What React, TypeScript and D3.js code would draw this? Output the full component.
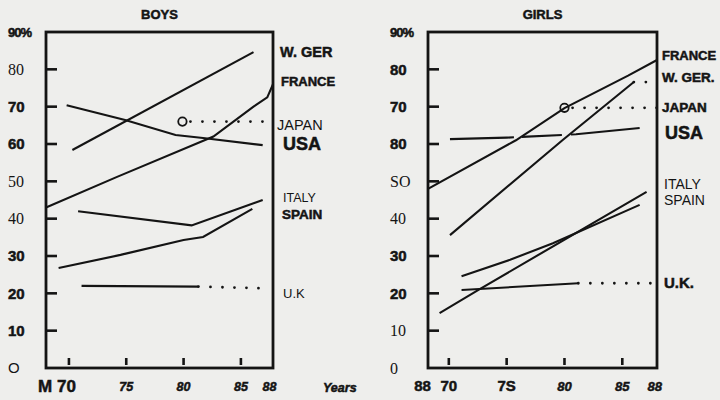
import React from "react";
import * as d3 from "d3";

// ---- data (year, percent) ----
const boysWGer = [[70.3, 58.4], [86.1, 84.6]];
const boysFrance = [[68, 43], [74.2, 51.2], [82.6, 62], [86.1, 70], [87.3, 72.5], [87.8, 76]];
const boysUsa = [[69.8, 70.4], [74.9, 66.4], [79.3, 62.4], [81.7, 61.6], [86.9, 59.7]];
const boysJapan = [[79.9, 66], [87.8, 66]];
const boysItaly = [[70.8, 42], [80.7, 38.2], [86.9, 45]];
const boysSpain = [[69.1, 26.8], [74.5, 30.3], [80, 34.3], [81.7, 35.1], [86, 42.6]];
const boysUk = [[71.1, 22], [81.3, 21.8]];
const boysUkTrend = [[81.3, 21.8], [87.5, 21.3]];

const girlsFrance = [[68.2, 48], [75.8, 61], [80, 69.6], [85.5, 78.3], [88, 82.5]];
const girlsWGer = [[70.1, 35.6], [79.9, 61.2], [86, 76.6]];
const girlsWGerTrend = [[86, 76.6], [88, 76.6]];
const girlsJapan = [[80, 69.7], [88, 69.7]];
const girlsUsa = [[70.1, 61.3], [75, 61.7], [81, 62.6], [86.5, 64.3]];
const girlsItaly = [[69.2, 14.7], [72.6, 21], [87.1, 47.2]];
const girlsSpain = [[71.1, 24.6], [75.3, 29], [79, 33.4], [86.5, 43.7]];
const girlsUk = [[71.1, 20.9], [81.2, 22.7]];
const girlsUkTrend = [[81.2, 22.7], [87.5, 22.7]];

const yTickValues = [10, 20, 30, 40, 50, 60, 70, 80];
const xTickValues = [70, 75, 80, 85];

// tick labels as printed on the scan (OCR-ish glitches kept)
const boysYLabels = ["O", "10", "20", "30", "40", "50", "60", "70", "80", "90%"];
const girlsYLabels = ["0", "10", "20", "30", "40", "SO", "80", "70", "80", "90%"];
const boysXLabels = ["M 70", "75", "80", "85", "88"];
const girlsXLabels = ["88", "70", "7S", "80", "85", "88"];

const boysNames = ["W. GER", "FRANCE", "JAPAN", "USA", "ITALY", "SPAIN", "U.K"];
const girlsNames = ["FRANCE", "W. GER.", "JAPAN", "USA", "ITALY", "SPAIN", "U.K."];

const INK = "#141414";
const SANS = "'Liberation Sans', Arial, sans-serif";
const SERIF = "'Liberation Serif', 'Times New Roman', serif";

type Pt = number[];

const yScale = d3.scaleLinear().domain([0, 90]).range([368, 32]);

// font look of each y label (index = value/10)
const boysYStyle = ["sans", "bold", "bold", "bold", "serif", "serif", "bold", "bold", "serif", "bold"];
const girlsYStyle = ["serif", "serif", "bold", "bold", "serif", "serif", "bold", "bold", "bold", "bold"];

// heavy "printed" look for bold text
const heavy = (on: boolean) =>
  on ? { stroke: INK, strokeWidth: 0.5, paintOrder: "stroke" as const } : {};

function Panel(props: {
  x0: number;
  x1: number;
  domain: [number, number];
  solid: Pt[][];
  dotted: Pt[][];
  dashed: Pt[][];
  circles: Pt[];
  yLabels: string[];
  yStyle: string[];
  labelX: number;
  title: string;
}) {
  const { x0, x1, domain } = props;
  const x = d3.scaleLinear().domain(domain).range([x0, x1]);
  const line = d3
    .line<Pt>()
    .x((d) => x(d[0]))
    .y((d) => yScale(d[1]));

  return (
    <g>
      <text x={(x0 + x1) / 2} y={19} textAnchor="middle" fontFamily={SANS} fontWeight="bold" fontSize={13} fill={INK} {...heavy(true)}>
        {props.title}
      </text>
      <rect x={x0} y={yScale(90)} width={x1 - x0} height={yScale(0) - yScale(90)} fill="none" stroke={INK} strokeWidth={2.8} />
      {yTickValues.map((v) => (
        <line key={v} x1={x0} x2={x0 + 11} y1={yScale(v)} y2={yScale(v)} stroke={INK} strokeWidth={2.6} />
      ))}
      {xTickValues.map((v) => (
        <line key={v} x1={x(v)} x2={x(v)} y1={yScale(0) - 10} y2={yScale(0) - 3} stroke={INK} strokeWidth={2.6} />
      ))}
      {props.yLabels.map((t, i) => {
        const st = props.yStyle[i];
        return (
          <text
            key={i}
            x={props.labelX}
            y={yScale(i * 10)}
            dy="0.36em"
            fontFamily={st === "serif" ? SERIF : SANS}
            fontWeight={st === "bold" ? "bold" : "normal"}
            fontSize={st === "serif" ? 16 : i === 9 ? 13 : 15}
            letterSpacing={i === 9 ? -1 : 0}
            fill={INK}
            {...heavy(st === "bold")}
          >
            {t}
          </text>
        );
      })}
      {props.solid.map((s, i) => (
        <path key={"s" + i} d={line(s) || ""} fill="none" stroke={INK} strokeWidth={2.1} />
      ))}
      {props.dashed.map((s, i) => (
        <path key={"d" + i} d={line(s) || ""} fill="none" stroke={INK} strokeWidth={2.1} strokeDasharray="64,8,40,9,70" />
      ))}
      {props.dotted.map((s, i) => (
        <path
          key={"o" + i}
          d={line(s) || ""}
          fill="none"
          stroke={INK}
          strokeWidth={2.8}
          strokeLinecap="round"
          strokeDasharray="0,12"
        />
      ))}
      {props.circles.map((c, i) => (
        <circle key={"c" + i} cx={x(c[0])} cy={yScale(c[1])} r={4.2} fill="none" stroke={INK} strokeWidth={1.8} />
      ))}
    </g>
  );
}

function SeriesLabels(props: { names: string[]; ys: number[]; xs: number[]; weights: string[]; sizes: number[] }) {
  return (
    <g>
      {props.names.map((n, i) => (
        <text
          key={n}
          x={props.xs[i]}
          y={yScale(props.ys[i])}
          dy="0.36em"
          fontFamily={SANS}
          fontWeight={props.weights[i]}
          fontSize={props.sizes[i]}
          fill={INK}
          {...heavy(props.weights[i] === "bold")}
        >
          {n}
        </text>
      ))}
    </g>
  );
}

export default function App() {
  const bx = d3.scaleLinear().domain([68, 87.8]).range([46, 273]);
  const gx = d3.scaleLinear().domain([68.2, 88]).range([428, 657]);
  const xLabelY = 386;

  return (
    <svg width={720} height={400} style={{ position: "absolute", left: 0, top: 0 }}>
      <rect x={0} y={0} width={720} height={400} fill="#eeeeec" />
      <Panel
        x0={46}
        x1={273}
        domain={[68, 87.8]}
        solid={[boysWGer, boysFrance, boysUsa, boysItaly, boysSpain, boysUk]}
        dotted={[[[80.6, 66], [87.8, 66]], boysUkTrend]}
        dashed={[]}
        circles={[boysJapan[0]]}
        yLabels={boysYLabels}
        yStyle={boysYStyle}
        labelX={8}
        title="BOYS"
      />
      <Panel
        x0={428}
        x1={657}
        domain={[68.2, 88]}
        solid={[girlsFrance, girlsWGer, girlsItaly, girlsSpain, girlsUk]}
        dotted={[[[80.7, 69.7], [88, 69.7]], girlsWGerTrend, girlsUkTrend]}
        dashed={[girlsUsa]}
        circles={[girlsJapan[0]]}
        yLabels={girlsYLabels}
        yStyle={girlsYStyle}
        labelX={390}
        title="GIRLS"
      />
      <SeriesLabels
        names={boysNames}
        ys={[84.6, 76.9, 65.1, 60, 45.6, 41.2, 20.1]}
        xs={[280, 281, 277, 283, 283, 282, 283]}
        weights={["bold", "bold", "normal", "bold", "normal", "bold", "normal"]}
        sizes={[14.5, 13, 14.5, 18, 12.5, 13.5, 13]}
      />
      <SeriesLabels
        names={girlsNames}
        ys={[83.8, 78, 69.9, 63.2, 49.2, 45, 22.8]}
        xs={[662, 662, 662, 665, 664, 664, 664]}
        weights={["bold", "bold", "bold", "bold", "normal", "normal", "bold"]}
        sizes={[13, 13.5, 13.5, 18, 14, 14, 15]}
      />
      {/* x tick labels */}
      {boysXLabels.map((t, i) => {
        const v = i === 4 ? 87.5 : xTickValues[i];
        const big = i === 0;
        return (
          <text
            key={"bx" + i}
            x={big ? 57 : bx(v)}
            y={xLabelY}
            dy="0.36em"
            textAnchor="middle"
            fontFamily={SANS}
            fontWeight="bold"
            fontStyle={big ? "normal" : "italic"}
            fontSize={big ? 17 : 12.5}
            fill={INK}
            {...heavy(true)}
          >
            {t}
          </text>
        );
      })}
      <text x={323} y={xLabelY + 1} dy="0.36em" fontFamily={SANS} fontWeight="bold" fontStyle="italic" fontSize={12.5} fill={INK} {...heavy(true)}>
        Years
      </text>
      {girlsXLabels.map((t, i) => {
        const v = i === 0 ? 67.9 : i === 5 ? 87.8 : xTickValues[i - 1];
        const upright = i < 3;
        return (
          <text
            key={"gx" + i}
            x={gx(v) - (i === 0 ? 2 : 0)}
            y={xLabelY}
            dy="0.36em"
            textAnchor="middle"
            fontFamily={SANS}
            fontWeight="bold"
            fontStyle={upright ? "normal" : "italic"}
            fontSize={upright ? 15 : 13}
            fill={INK}
            {...heavy(true)}
          >
            {t}
          </text>
        );
      })}
    </svg>
  );
}
